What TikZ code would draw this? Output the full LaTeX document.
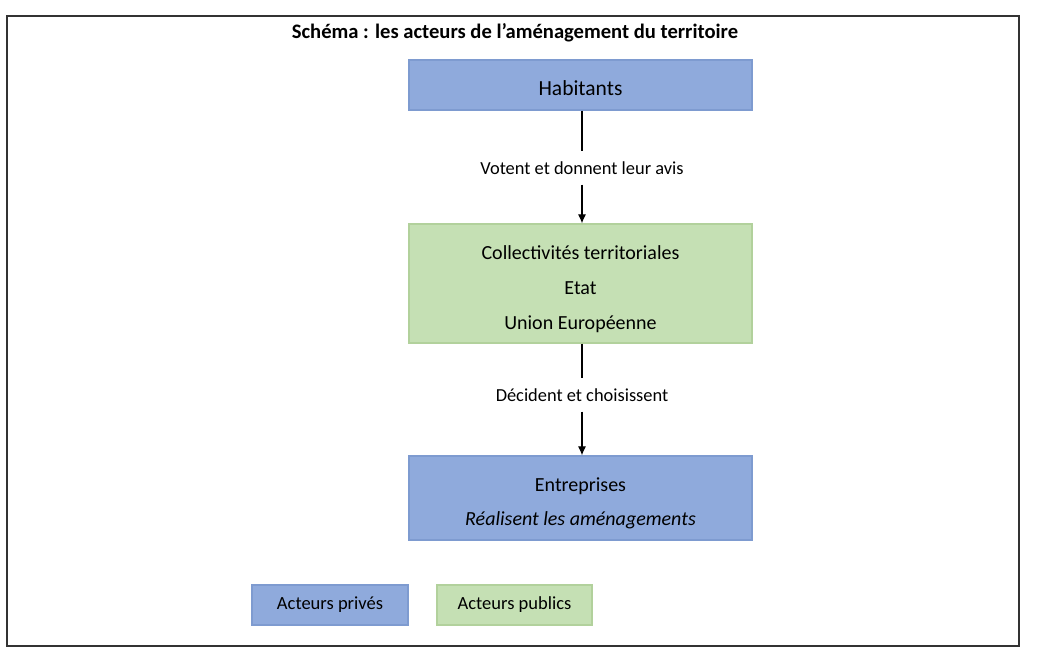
\documentclass[tikz,border=0pt]{standalone}
\usepackage{fontspec}
\setmainfont{Carlito}
\usetikzlibrary{positioning, arrows.meta}
\definecolor{bleuprive}{HTML}{8FAADC}
\definecolor{bordbleu}{HTML}{7E9BD0}
\definecolor{vertpublic}{HTML}{C5E0B4}
\definecolor{bordvert}{HTML}{B2D19C}
\newcommand{\hautligne}[1]{\rule{0pt}{#1}}

\tikzset{
  prive/.style={draw=bordbleu, fill=bleuprive, line width=1.2pt, minimum width=343pt},
  public/.style={draw=bordvert, fill=vertpublic, line width=1.2pt, minimum width=343pt},
  lien/.style={font=\fontsize{18.4}{20}\selectfont, inner ysep=10pt},
  fleche/.style={line width=1.1pt}
}

\begin{document}
\begin{tikzpicture}[x=1pt, y=-1pt]
  \useasboundingbox (0,0) rectangle (1039,666);
  \draw[black!80, line width=1.5pt] (7,16) rectangle (1019,646);
  \node[font=\bfseries\fontsize{20.6}{22}\selectfont] (titre) at (515,33) {Schéma : les acteurs de l’aménagement du territoire};

  \node[prive, minimum height=50pt, font=\fontsize{21.5}{22}\selectfont] (hab) at (580.5,85) {\hautligne{22pt}Habitants};
  \node[public, minimum height=119pt, align=center, font=\fontsize{20}{35}\selectfont] (coll) at (580.5,283.5)
    {\hautligne{25pt}Collectivités territoriales\\Etat\\Union Européenne};
  \node[prive, minimum height=84pt, align=center, font=\fontsize{20}{34}\selectfont] (entr) at (580.5,498)
    {\hautligne{25pt}Entreprises\\\textit{Réalisent les aménagements}};

  \node[lien] (vote) at (582,168) {Votent et donnent leur avis};
  \node[lien] (decide) at (582,395) {Décident et choisissent};

  \draw[fleche] (hab.south -| vote) -- (vote);
  \draw[fleche, -{Latex[length=9pt,width=8pt]}] (vote) -- (coll.north -| vote);
  \draw[fleche] (coll.south -| decide) -- (decide);
  \draw[fleche, -{Latex[length=9pt,width=8pt]}] (decide) -- (entr.north -| decide);

  % legende
  \node[prive, minimum width=156pt, minimum height=40pt, font=\fontsize{18.5}{20}\selectfont] (legprive) at (330,605) {Acteurs privés};
  \node[public, minimum width=155pt, minimum height=40pt, font=\fontsize{18.5}{20}\selectfont] (legpublic) at (514.5,605) {Acteurs publics};
\end{tikzpicture}
\end{document}
